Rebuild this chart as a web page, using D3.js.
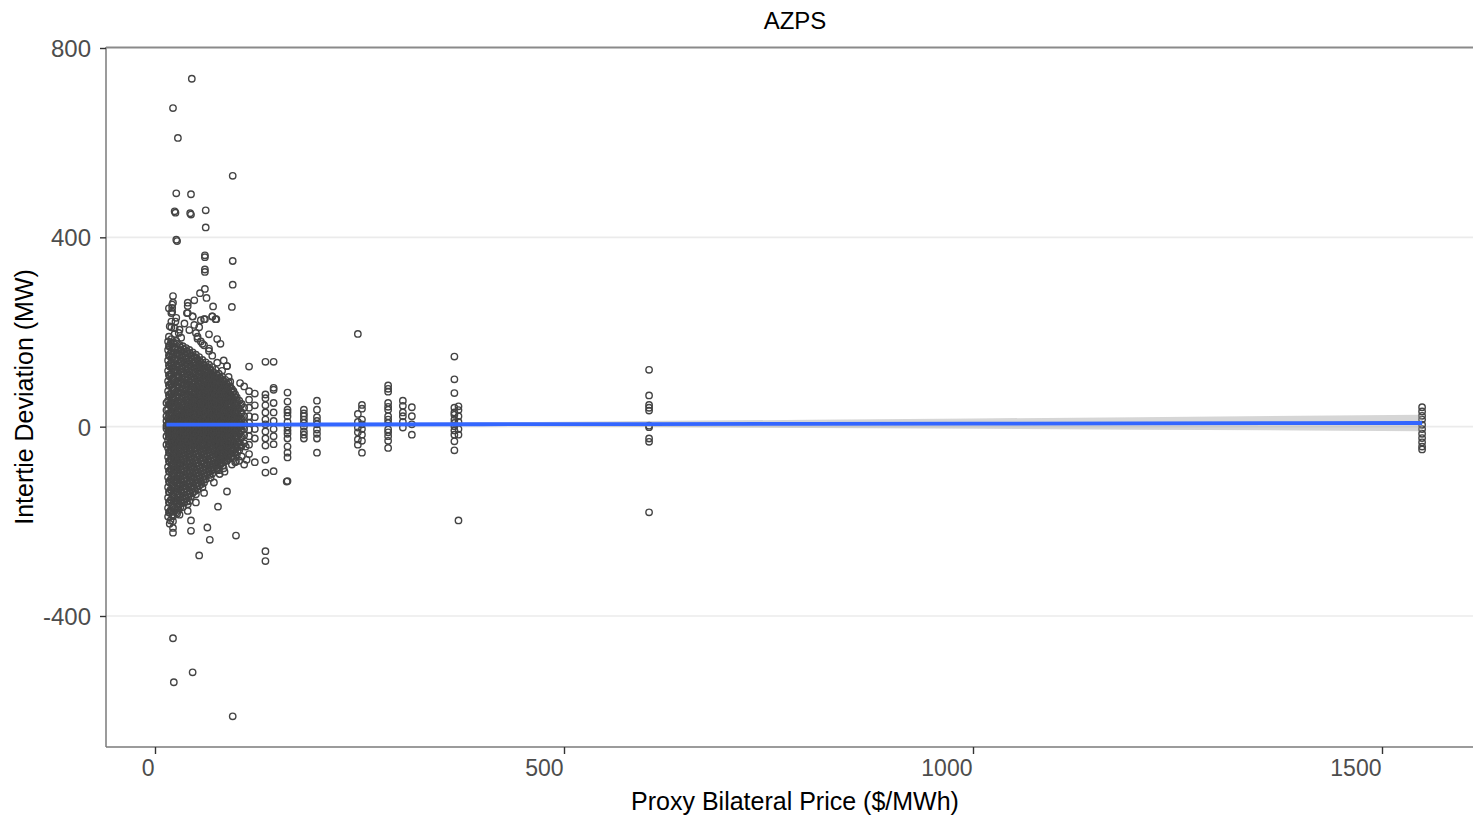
<!DOCTYPE html>
<html>
<head>
<meta charset="utf-8">
<script src="https://cdn.jsdelivr.net/npm/d3@7"></script>
<style>
  html, body { margin: 0; padding: 0; background: #fff; }
  svg { display: block; font-family: "Liberation Sans", Arial, Helvetica, sans-serif; }
</style>
</head>
<body>
<svg id="chart" width="1473" height="816"></svg>
<script>
// ---------------- DATA ----------------
const chartTitle = "AZPS";
const xLabel = "Proxy Bilateral Price ($/MWh)";
const yLabel = "Intertie Deviation (MW)";
const xTicks = [0, 500, 1000, 1500];
const yTicks = [-400, 0, 400, 800];

// dense cluster (even prices): one price per column, deviations listed per column
const clusterPrice = [14,16,18,20,22,24,26,28,30,32,34,36,38,40,42,44,46,48,50,52,54,56,58,60,62,64,66,68,70,72,74,76,78,80,82,84,86,88,90,92,94,96,98,100,103,106,109];
const clusterDev = [
  [35, 12, -4, -20, 2, 22, -38, 50],
  [180, 162, 140, 118, 96, 75, 55, 36, 18, 6, -3, -14, -28, -45, -64, -85, -107, -128, -150, -172, -190],
  [171, 149, 127, 106, 86, 64, 45, 27, 11, 0, -9, -22, -37, -56, -75, -96, -118, -139, -161, -182, 212, -205],
  [185, 158, 134, 112, 91, 70, 50, 31, 15, 4, -6, -17, -32, -50, -69, -90, -111, -134, -156, -178, 222],
  [176, 152, 129, 101, 80, 60, 41, 24, 9, -1, -12, -26, -42, -61, -81, -101, -123, -145, -167, -189],
  [168, 144, 121, 99, 78, 57, 39, 21, 7, -4, -15, -30, -47, -66, -86, -106, -128, -152, -174, 196, 208],
  [181, 155, 131, 108, 87, 66, 47, 28, 13, 2, -8, -20, -35, -53, -72, -93, -114, -137, -159, -181, 230],
  [164, 141, 117, 95, 73, 53, 34, 17, 5, -5, -16, -29, -44, -62, -82, -103, -125, -147, -169],
  [173, 150, 126, 104, 82, 62, 43, 26, 10, 0, -10, -23, -39, -58, -78, -99, -120, -143, -164, -186, 205],
  [160, 137, 115, 93, 72, 52, 33, 16, 3, -7, -19, -33, -51, -70, -91, -112, -134, -155, 188],
  [170, 146, 122, 100, 79, 59, 40, 22, 8, -3, -13, -27, -43, -63, -84, -105, -127, -149, -170],
  [158, 135, 112, 90, 69, 49, 31, 14, 1, -9, -21, -36, -54, -74, -95, -116, -138, -160, 218],
  [166, 143, 119, 97, 76, 56, 37, 19, 6, -4, -15, -30, -48, -67, -88, -109, -131, -152],
  [155, 132, 110, 88, 67, 47, 29, 12, 0, -11, -24, -40, -58, -78, -99, -121, -143, -164, 240],
  [162, 139, 116, 94, 73, 53, 35, 18, 5, -6, -18, -34, -52, -72, -93, -114, -136, -157, 204],
  [150, 128, 106, 85, 64, 45, 27, 11, -2, -13, -27, -44, -63, -84, -105, -127, -148],
  [157, 134, 112, 90, 69, 50, 32, 15, 3, -8, -21, -37, -56, -76, -97, -118, -140, 233],
  [146, 124, 102, 81, 61, 42, 25, 9, -3, -15, -29, -46, -66, -87, -108, -130, 215],
  [152, 130, 108, 86, 66, 47, 29, 13, 1, -10, -23, -39, -58, -78, -100, -121, -143, 198],
  [140, 118, 97, 77, 57, 39, 22, 7, -5, -17, -32, -50, -70, -91, -112, -133, 186],
  [147, 125, 104, 83, 63, 44, 27, 11, -1, -12, -26, -43, -62, -83, -104, -125, 210],
  [135, 114, 93, 73, 54, 36, 19, 5, -7, -19, -35, -53, -73, -94, -115, 225, 180],
  [141, 120, 99, 79, 59, 41, 24, 9, -3, -14, -28, -46, -66, -86, -107, -128],
  [130, 109, 89, 70, 51, 33, 17, 3, -9, -22, -38, -57, -77, -98, -118, 172, 227],
  [136, 115, 95, 75, 56, 38, 21, 7, -5, -17, -32, -50, -70, -91, -111],
  [125, 104, 85, 66, 47, 30, 14, 1, -11, -25, -42, -61, -81, -101],
  [131, 110, 90, 71, 52, 35, 18, 4, -7, -20, -36, -55, -75, -95, 195, 160],
  [119, 99, 80, 61, 43, 26, 11, -2, -14, -29, -47, -67, -87, -108],
  [126, 105, 86, 67, 48, 31, 15, 2, -9, -23, -40, -59, -79, -99, 233],
  [114, 94, 75, 57, 39, 23, 8, -4, -17, -33, -51, -71, -90],
  [120, 100, 81, 62, 44, 28, 12, 0, -12, -27, -44, -63, -83, 227],
  [108, 89, 70, 52, 35, 19, 5, -7, -21, -38, -57, -76, 135, 185],
  [112, 93, 74, 56, 39, 22, 8, -5, -18, -34, -52, -72, -92],
  [102, 83, 65, 47, 31, 16, 3, -10, -25, -42, -61, -80, 175],
  [106, 87, 68, 50, 34, 18, 5, -8, -22, -39, -58, -77],
  [96, 77, 59, 42, 26, 11, -1, -14, -30, -48, -66, -88, 140],
  [99, 80, 62, 45, 29, 14, 2, -11, -26, -43, -62],
  [90, 72, 54, 37, 22, 8, -4, -18, -35, -53, -72, 128],
  [93, 74, 56, 40, 24, 10, -2, -15, -31, -49, -68],
  [85, 66, 49, 33, 18, 5, -7, -22, -39, -57, 95],
  [80, 62, 45, 29, 15, 2, -11, -27, -44, -62, -80],
  [75, 57, 40, 25, 11, -1, -14, -30, -48, -66],
  [68, 50, 34, 19, 6, -6, -20, -37, -55, -75],
  [62, 45, 29, 15, 3, -9, -24, -41, -60],
  [55, 38, 22, 9, -3, -16, -32, -50, -72],
  [48, 30, 16, 4, -8, -22, -40, -63],
  [85, 40, 22, 8, -5, -18, -35, -80]
];

// dense cluster (odd prices)
const clusterPriceOdd = [17,19,21,23,25,27,29,31,33,35,37,39,41,43,45,47,49,51,53,55,57,59,61,63,65,67,69,71,73,75,77,79,81,83,85,87,89,91,93,95,97,99,101,105];
const clusterDevOdd = [
  [190, 170, 151, 130, 109, 88, 67, 47, 28, 12, -1, -10, -21, -36, -54, -73, -94, -116, -138, -160, -181, 250],
  [176, 154, 133, 111, 91, 70, 49, 30, 14, 1, -8, -19, -33, -51, -70, -91, -112, -133, -155, -177, -198],
  [169, 147, 124, 102, 83, 61, 42, 25, 8, -2, -13, -25, -41, -59, -79, -100, -122, -144, -166, -186, 258],
  [178, 157, 135, 114, 92, 71, 51, 32, 16, 4, -7, -19, -34, -52, -71, -92, -113, -135, -157, -179],
  [163, 140, 116, 94, 72, 51, 33, 16, 3, -6, -17, -31, -48, -67, -87, -108, -130, -152, -173, 222],
  [175, 152, 128, 106, 85, 63, 44, 26, 10, -1, -12, -24, -40, -57, -77, -98, -119, -141, -163, -184],
  [158, 134, 111, 89, 68, 48, 30, 14, 2, -8, -20, -34, -50, -68, -88, -110, -132, -154, -176, 198],
  [167, 143, 120, 98, 77, 57, 38, 20, 6, -4, -15, -28, -45, -64, -84, -105, -126, -148, -170],
  [153, 130, 108, 86, 65, 45, 27, 11, 0, -11, -24, -39, -57, -76, -97, -118, -140, -161],
  [163, 139, 116, 94, 73, 53, 35, 18, 4, -6, -17, -31, -48, -68, -89, -110, -132, -154],
  [150, 127, 105, 83, 63, 43, 25, 9, -2, -13, -26, -42, -60, -80, -101, -123, -145],
  [159, 136, 113, 91, 70, 50, 32, 15, 2, -8, -20, -36, -53, -73, -94, -115, -137, -158],
  [145, 123, 101, 79, 59, 40, 23, 8, -3, -15, -29, -45, -64, -84, -105, -126, -148],
  [154, 131, 109, 87, 66, 47, 29, 13, 1, -10, -23, -39, -57, -77, -98, -119, -141],
  [141, 119, 97, 76, 56, 37, 20, 6, -6, -18, -33, -50, -69, -90, -111, -133],
  [149, 126, 104, 83, 62, 43, 26, 10, -1, -12, -25, -41, -60, -81, -102, -124],
  [137, 115, 94, 73, 53, 35, 18, 4, -8, -20, -35, -52, -72, -93, -114, -136],
  [144, 122, 100, 79, 59, 40, 23, 8, -4, -15, -28, -45, -64, -84, -106, -127],
  [131, 110, 89, 69, 50, 32, 15, 2, -10, -23, -39, -57, -77, -98, -119],
  [138, 116, 95, 75, 55, 37, 20, 6, -6, -17, -31, -48, -68, -88, -109],
  [126, 105, 84, 65, 46, 28, 12, 0, -12, -25, -42, -60, -80, -101, -121],
  [132, 111, 90, 71, 52, 34, 17, 4, -8, -20, -34, -52, -72, -92, -112],
  [120, 99, 80, 61, 42, 25, 10, -2, -14, -28, -45, -64, -84, -104],
  [126, 106, 86, 66, 48, 30, 14, 1, -10, -23, -39, -58, -78, -97],
  [114, 95, 76, 57, 39, 22, 8, -4, -16, -31, -49, -68, -88],
  [122, 101, 82, 63, 45, 28, 12, 0, -12, -26, -43, -62, -82, -102],
  [109, 90, 71, 52, 35, 19, 5, -6, -19, -35, -53, -73, -93],
  [115, 96, 77, 58, 41, 24, 10, -2, -14, -29, -46, -66, -86],
  [104, 85, 66, 48, 31, 16, 3, -9, -23, -39, -57, -77],
  [110, 90, 72, 54, 37, 21, 7, -5, -18, -33, -50, -69, -88],
  [99, 80, 62, 44, 27, 12, 0, -12, -27, -44, -63, -82],
  [104, 84, 66, 48, 31, 15, 2, -10, -24, -40, -58, -77],
  [93, 75, 57, 40, 24, 9, -3, -16, -31, -49, -68],
  [97, 78, 60, 43, 27, 12, 0, -12, -27, -44, -62, -82],
  [88, 69, 51, 35, 19, 6, -6, -20, -36, -54, -73],
  [91, 72, 54, 37, 21, 7, -5, -18, -34, -51, -70],
  [82, 63, 46, 30, 15, 2, -10, -25, -42, -60],
  [84, 66, 48, 32, 17, 4, -8, -22, -38, -56],
  [76, 58, 41, 25, 11, -1, -14, -30, -47, -65],
  [72, 54, 37, 22, 8, -4, -18, -34, -52],
  [64, 47, 31, 17, 4, -8, -22, -39, -57],
  [58, 41, 26, 12, 0, -12, -27, -45],
  [52, 35, 20, 7, -5, -18, -34, -52],
  [45, 28, 14, 2, -10, -25, -43]
];

// isolated points around the cluster
const outlierPrice = [45, 22, 28, 95, 26, 44, 24, 25, 43, 44, 62, 62, 26, 27, 61, 61, 61, 61, 95, 95, 94, 22, 61, 55, 63, 48, 40, 71, 21, 21, 39, 46, 70, 75, 61,
  22, 23, 46, 95, 99, 54, 67, 64, 44, 44, 22, 22, 22, 77, 88, 161, 20, 20, 22, 40,
  76, 99, 112, 111, 88, 82, 90, 104, 70, 66, 58, 52, 79, 85, 72, 60, 50, 40];
const outlierDev = [735, 673, 610, 530, 493, 491, 455, 452, 451, 448, 457, 421, 395, 392, 362, 358, 332, 327, 350, 300, 253, 276, 291, 282, 272, 267, 255, 254, 251, 243, 240, 233, 233, 227, 227,
  -447, -540, -519, -612, -230, -272, -239, -213, -198, -220, -200, -214, -224, -169, -137, -116, 240, 210, 262, 262,
  -91, -73, -70, -42, 128, 118, 105, 92, 150, 165, 175, 190, -100, -95, -118, -140, -160, -178];

// discrete price columns further right
const colPrice = [115, 122, 135, 145, 162, 182, 198, 248, 253, 285, 303, 314, 366, 371, 604, 1549];
const colDev = [
  [127, 75, 57, 40, 22, 8, -6, -20, -38, -58],
  [70, 45, 20, -5, -25, -75],
  [137, 68, 60, 45, 30, 15, 5, -10, -25, -40, -70, -97, -263, -284],
  [137, 82, 78, 50, 30, 12, -5, -20, -37, -94],
  [72, 53, 36, 30, 22, 10, 0, -8, -15, -25, -42, -55, -65, -115],
  [36, 28, 22, 15, 8, 0, -10, -17, -25],
  [55, 36, 20, 12, 5, -6, -15, -25, -55],
  [196, 27, 10, -2, -12, -27, -38],
  [46, 38, 15, 5, -5, -17, -30, -55],
  [87, 80, 74, 50, 42, 36, 22, 15, 8, -6, -12, -20, -30, -45],
  [55, 44, 30, 22, 10, -2],
  [41, 22, 5, -17],
  [148, 100, 71, 40, 30, 25, 15, 8, 1, -8, -17, -31, -50],
  [43, 35, 22, 10, -5, -17, -198],
  [120, 66, 46, 40, 34, 2, -1, -25, -32, -181],
  [41, 32, 23, 15, 4, -5, -15, -24, -33, -42, -48]
];

// linear fit with 95% band
const fitPrice = [14, 100, 200, 400, 600, 800, 1000, 1200, 1400, 1549];
const fitValue = [4.2, 4.4, 4.6, 5.1, 5.5, 6.0, 6.4, 6.9, 7.4, 7.7];
const fitLow   = [2.6, 3.0, 2.8, 1.1, -0.8, -2.6, -4.5, -6.3, -8.1, -9.9];
const fitHigh  = [5.8, 5.8, 6.4, 9.1, 11.8, 14.6, 17.3, 20.1, 22.9, 25.3];

// ---------------- CHART ----------------
const svg = d3.select("#chart");
const panel = { left: 106, right: 1484, top: 47, bottom: 747 };

const x = d3.scaleLinear().domain([0, 1500]).range([155, 1382]);
const y = d3.scaleLinear().domain([-400, 800]).range([616, 48]);

// gridlines
svg.append("g").selectAll("line")
  .data(yTicks.filter(v => v !== 800))
  .join("line")
  .attr("x1", panel.left).attr("x2", panel.right)
  .attr("y1", d => y(d)).attr("y2", d => y(d))
  .attr("stroke", "#ebebeb").attr("stroke-width", 1.6);

// points
const points = [];
clusterPrice.forEach((p, i) => clusterDev[i].forEach(v => points.push([p, v])));
clusterPriceOdd.forEach((p, i) => clusterDevOdd[i].forEach(v => points.push([p, v])));
outlierPrice.forEach((p, i) => points.push([p, outlierDev[i]]));
colPrice.forEach((p, i) => colDev[i].forEach(v => points.push([p, v])));

svg.append("g").selectAll("circle")
  .data(points)
  .join("circle")
  .attr("cx", d => x(d[0]))
  .attr("cy", d => y(d[1]))
  .attr("r", 3.2)
  .attr("fill", "none")
  .attr("stroke", "#444444")
  .attr("stroke-width", 1.4);

// ribbon + fit line
const fit = fitPrice.map((p, i) => ({ p, v: fitValue[i], lo: fitLow[i], hi: fitHigh[i] }));
svg.append("path")
  .datum(fit)
  .attr("d", d3.area().x(d => x(d.p)).y0(d => y(d.lo)).y1(d => y(d.hi)))
  .attr("fill", "#999999").attr("fill-opacity", 0.4);
svg.append("path")
  .datum(fit)
  .attr("d", d3.line().x(d => x(d.p)).y(d => y(d.v)))
  .attr("fill", "none").attr("stroke", "#3366FF").attr("stroke-width", 3.8);

// axis lines (left, bottom, top)
const axisColor = "#7a7a7a";
svg.append("line").attr("x1", panel.left).attr("x2", panel.left).attr("y1", panel.top).attr("y2", panel.bottom)
  .attr("stroke", axisColor).attr("stroke-width", 1.5);
svg.append("line").attr("x1", panel.left).attr("x2", panel.right).attr("y1", panel.bottom).attr("y2", panel.bottom)
  .attr("stroke", axisColor).attr("stroke-width", 1.5);
svg.append("line").attr("x1", panel.left).attr("x2", panel.right).attr("y1", panel.top + 0.5).attr("y2", panel.top + 0.5)
  .attr("stroke", "#8a8a8a").attr("stroke-width", 1.8);

// y axis
const yAxis = svg.append("g").attr("transform", `translate(${panel.left},0)`)
  .call(d3.axisLeft(y).tickValues(yTicks).tickSize(6).tickPadding(9).tickFormat(d => String(d)));
yAxis.select(".domain").remove();
yAxis.selectAll(".tick line").attr("stroke", "#333").attr("stroke-width", 1.4);
yAxis.selectAll(".tick text").attr("fill", "#4d4d4d").attr("font-size", 24)
  .attr("font-family", "Liberation Sans, Arial, sans-serif").attr("dy", "0.36em");

// x axis
const xAxis = svg.append("g").attr("transform", `translate(0,${panel.bottom})`)
  .call(d3.axisBottom(x).tickValues(xTicks).tickSize(7).tickPadding(6).tickFormat(d => String(d)));
xAxis.select(".domain").remove();
xAxis.selectAll(".tick line").attr("stroke", "#333").attr("stroke-width", 1.4);
xAxis.selectAll(".tick text").attr("fill", "#4d4d4d").attr("font-size", 23)
  .attr("font-family", "Liberation Sans, Arial, sans-serif")
  .attr("text-anchor", "end").attr("x", -1);

// titles
svg.append("text").attr("x", 795).attr("y", 29).attr("text-anchor", "middle")
  .attr("font-size", 24).attr("fill", "#000").text(chartTitle);
svg.append("text").attr("x", 795).attr("y", 810).attr("text-anchor", "middle")
  .attr("font-size", 25).attr("fill", "#000").text(xLabel);
svg.append("text").attr("transform", `translate(33,${(panel.top + panel.bottom) / 2}) rotate(-90)`)
  .attr("text-anchor", "middle").attr("font-size", 25).attr("fill", "#000").text(yLabel);
</script>
</body>
</html>
